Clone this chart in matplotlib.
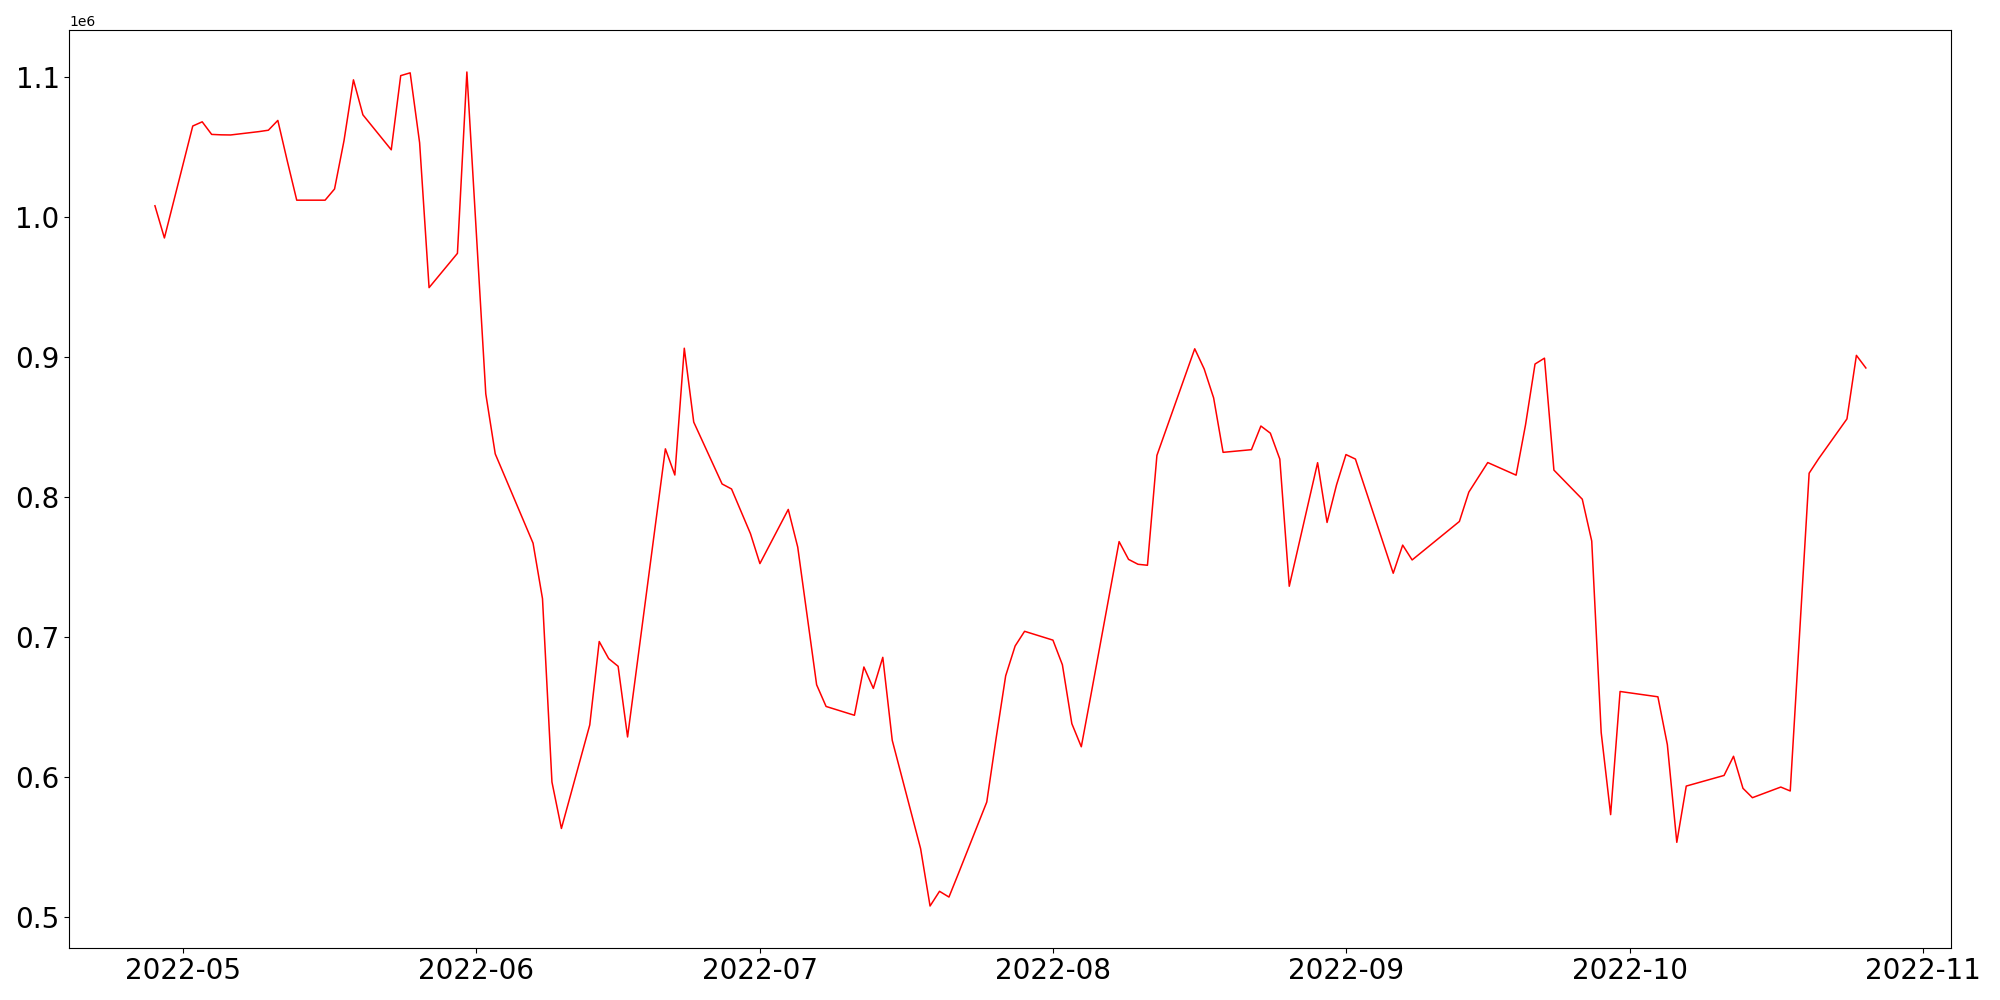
import numpy as np
import pandas as pd
import matplotlib
matplotlib.use('Agg')
import matplotlib.pyplot as plt

# ====== DATOS (dias habiles, valores en millones) ======
fecha_inicio = '2022-04-28'
fecha_fin = '2022-10-26'

valores = [
    1.008, 0.985,                                  # abr 28-29
    1.065, 1.068, 1.059, 1.0587, 1.0586,           # may 2-6
    1.061, 1.062, 1.069, 1.040, 1.012,             # may 9-13
    1.012, 1.020, 1.0545, 1.098, 1.073,            # may 16-20
    1.048, 1.101, 1.103, 1.053, 0.9495,            # may 23-27
    0.974, 1.1036, 0.9886, 0.8736, 0.8307,         # may 30 - jun 3
    0.7828, 0.7669, 0.7272, 0.5962, 0.563,         # jun 6-10
    0.637, 0.6966, 0.6844, 0.6789, 0.6284,         # jun 13-17
    0.7832, 0.8343, 0.8156, 0.9062, 0.8534,        # jun 20-24
    0.8092, 0.8056, 0.7896, 0.7737, 0.7523,        # jun 27 - jul 1
    0.791, 0.7641, 0.715, 0.6657, 0.6502,          # jul 4-8
    0.6439, 0.6784, 0.6631, 0.6853, 0.626,         # jul 11-15
    0.5486, 0.5076, 0.5181, 0.514, 0.5308,         # jul 18-22
    0.5819, 0.628, 0.6721, 0.6934, 0.7039,         # jul 25-29
    0.6976, 0.68, 0.6379, 0.6214, 0.6577,          # ago 1-5
    0.768, 0.7553, 0.7518, 0.7511, 0.8296,         # ago 8-12
    0.8869, 0.9058, 0.8914, 0.8707, 0.8318,        # ago 15-19
    0.8337, 0.8506, 0.8455, 0.827, 0.7361,         # ago 22-26
    0.8244, 0.7817, 0.8085, 0.8302, 0.827,         # ago 29 - sep 2
    0.7658, 0.7454, 0.7655, 0.7549, 0.7604,        # sep 5-9
    0.7769, 0.7824, 0.8034, 0.8139, 0.8245,        # sep 12-16
    0.8155, 0.8516, 0.8949, 0.8991, 0.8191,        # sep 19-23
    0.7983, 0.7684, 0.6316, 0.5729, 0.6609,        # sep 26-30
    0.658, 0.6571, 0.6229, 0.5531, 0.5933,         # oct 3-7
    0.599, 0.6009, 0.6146, 0.5917, 0.585,          # oct 10-14
    0.5926, 0.5898, 0.7033, 0.8169, 0.8272,        # oct 17-21
    0.8557, 0.9011, 0.8921,                        # oct 24-26
]

fechas = pd.bdate_range(fecha_inicio, fecha_fin)
serie = pd.Series(np.array(valores) * 1e6, index=fechas)

# ====== GRAFICO ======
fig = plt.figure(figsize=(20, 10), dpi=100)
plt.plot(serie.index, serie.values, color='red', linewidth=1.1)

plt.xticks(fontsize=20)
plt.yticks(fontsize=20)
plt.subplots_adjust(left=0.0347, right=0.9757, bottom=0.0523, top=0.9697)

plt.savefig('out.png', dpi=100)
plt.close()
